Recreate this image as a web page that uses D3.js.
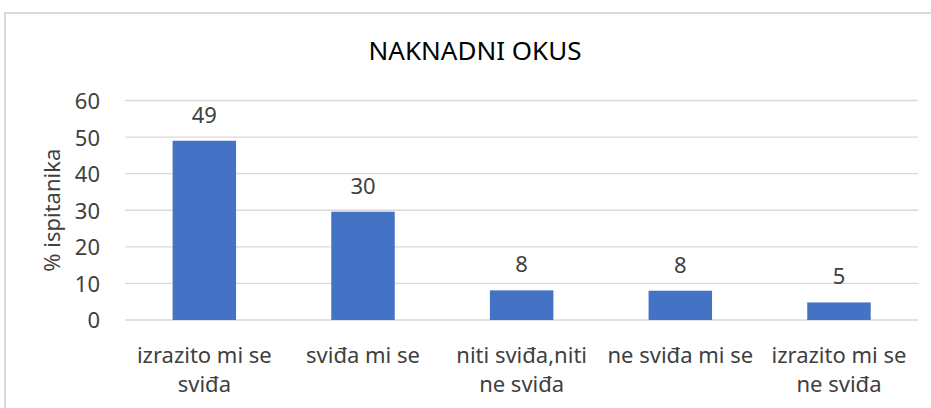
<!DOCTYPE html>
<html>
<head>
<meta charset="utf-8">
<script src="https://cdn.jsdelivr.net/npm/d3@7"></script>
<style>
  body { margin: 0; background: #fff; }
  svg { display: block; font-family: "Noto Sans", sans-serif; }
</style>
</head>
<body>
<div id="chart"></div>
<script>
// Podaci
const kategorije = ["izrazito mi se sviđa", "sviđa mi se", "niti sviđa,niti ne sviđa", "ne sviđa mi se", "izrazito mi se ne sviđa"];
const vrijednosti = [49, 29.6, 8.1, 8, 4.8];
const yTicks = [0, 10, 20, 30, 40, 50, 60];
const naslov = "NAKNADNI OKUS";
const yNaslov = "% ispitanika";

const width = 931;
const height = 408;
const margin = {top: 100.5, right: 12.7, bottom: 88, left: 125};

const svg = d3.select("#chart")
    .append("svg")
    .attr("width", width)
    .attr("height", height);

// okvir grafikona
svg.append("rect")
    .attr("x", 5)
    .attr("y", 13)
    .attr("width", 960)
    .attr("height", 440)
    .attr("fill", "#fff")
    .attr("stroke", "#d9d9d9")
    .attr("stroke-width", 2);

const x = d3.scaleBand()
    .domain(kategorije)
    .range([margin.left, width - margin.right])
    .paddingInner(0.6)
    .paddingOuter(0.3);

const y = d3.scaleLinear()
    .domain([0, 60])
    .range([height - margin.bottom, margin.top]);

// mreža
svg.append("g")
    .selectAll("line")
    .data(yTicks)
    .enter()
    .append("line")
    .attr("x1", margin.left)
    .attr("x2", width - margin.right)
    .attr("y1", d => y(d))
    .attr("y2", d => y(d))
    .attr("stroke", "#d9d9d9")
    .attr("stroke-width", 1.4);

// y os
const yAxis = svg.append("g")
    .attr("transform", "translate(" + (margin.left - 25) + ",0)")
    .call(d3.axisLeft(y).tickValues(yTicks).tickSize(0).tickPadding(0));
yAxis.select(".domain").remove();
yAxis.selectAll("text")
    .attr("font-family", "Noto Sans")
    .attr("font-size", 22)
    .attr("fill", "#404040")
    .attr("dy", "0.36em");

// stupci
svg.append("g")
    .selectAll("rect")
    .data(vrijednosti)
    .enter()
    .append("rect")
    .attr("x", (d, i) => x(kategorije[i]))
    .attr("y", d => y(d))
    .attr("width", x.bandwidth())
    .attr("height", d => y(0) - y(d))
    .attr("fill", "#4472c4");

// oznake vrijednosti
svg.append("g")
    .selectAll("text")
    .data(vrijednosti)
    .enter()
    .append("text")
    .attr("x", (d, i) => x(kategorije[i]) + x.bandwidth() / 2)
    .attr("y", d => y(d) - 18)
    .attr("text-anchor", "middle")
    .attr("font-size", 22)
    .attr("fill", "#404040")
    .text(d => d3.format(".0f")(d));

// x os - oznake s prelamanjem
function prelomi(tekst, maxW) {
    const rijeci = tekst.split(" ");
    const linije = [];
    let trenutna = "";
    const tmp = svg.append("text").attr("font-size", 22).attr("visibility", "hidden");
    rijeci.forEach(r => {
        const proba = trenutna ? trenutna + " " + r : r;
        tmp.text(proba);
        if (tmp.node().getComputedTextLength() > maxW && trenutna) {
            linije.push(trenutna);
            trenutna = r;
        } else {
            trenutna = proba;
        }
    });
    linije.push(trenutna);
    tmp.remove();
    return linije;
}

kategorije.forEach(k => {
    const linije = prelomi(k, 150);
    const t = svg.append("text")
        .attr("x", x(k) + x.bandwidth() / 2)
        .attr("y", 363)
        .attr("text-anchor", "middle")
        .attr("font-size", 22)
        .attr("fill", "#404040");
    linije.forEach((l, i) => {
        t.append("tspan")
            .attr("x", x(k) + x.bandwidth() / 2)
            .attr("dy", i === 0 ? 0 : 29)
            .text(l);
    });
});

// naslov
svg.append("text")
    .attr("x", 475)
    .attr("y", 60)
    .attr("text-anchor", "middle")
    .attr("font-size", 26)
    .attr("fill", "#000")
    .text(naslov);

// naslov y osi
svg.append("text")
    .attr("transform", "translate(60," + y(30) + ") rotate(-90)")
    .attr("text-anchor", "middle")
    .attr("font-size", 22)
    .attr("fill", "#404040")
    .text(yNaslov);
</script>
</body>
</html>
